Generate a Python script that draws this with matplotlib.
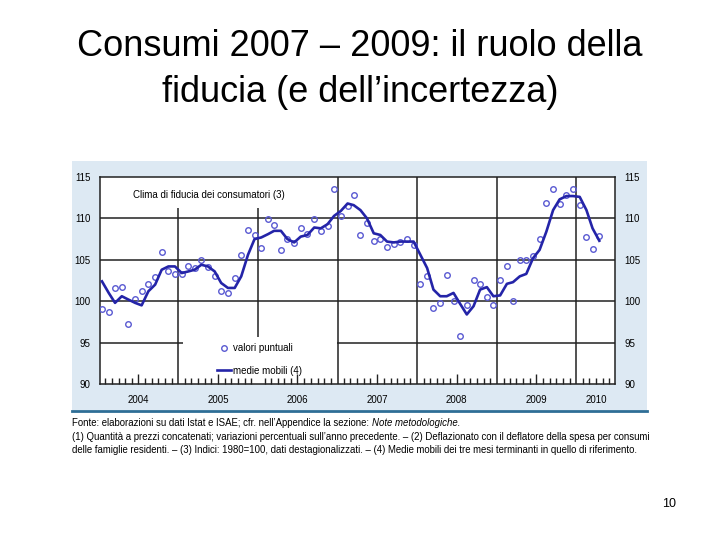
import numpy as np
import matplotlib
matplotlib.use("Agg")
import matplotlib.pyplot as plt
import matplotlib.dates as mdates
from matplotlib.patches import Rectangle
from matplotlib.lines import Line2D

# clima di fiducia dei consumatori, dati mensili gen 2004 - apr 2010
mesi = np.arange("2004-01", "2010-05", dtype="datetime64[M]")
valori_puntuali = [
    99.0, 98.7, 101.6, 101.7, 97.2, 100.3, 101.2, 102.1, 102.9, 105.9, 103.6, 103.3,
    103.3, 104.3, 104.0, 105.0, 104.1, 103.1, 101.2, 101.0, 102.8, 105.6, 108.6, 108.0,
    106.4, 109.9, 109.2, 106.2, 107.5, 107.0, 108.9, 108.1, 109.9, 108.5, 109.1, 113.5,
    110.3, 111.5, 112.8, 108.0, 109.4, 107.3, 107.5, 106.5, 106.9, 107.1, 107.5, 106.8,
    102.1, 103.0, 99.2, 99.8, 103.2, 100.0, 95.8, 99.5, 102.6, 102.1, 100.5, 99.5,
    102.6, 104.2, 100.0, 105.0, 105.0, 105.5, 107.5, 111.8, 113.6, 111.7, 112.8, 113.6,
    111.6, 107.7, 106.3, 107.9,
]
medie_mobili = [
    102.4, 101.0, 99.8, 100.6, 100.2, 99.8, 99.5, 101.2, 102.0, 103.8, 104.2, 104.2,
    103.4, 103.6, 103.8, 104.4, 104.2, 103.6, 102.2, 101.6, 101.6, 103.0, 105.6, 107.5,
    107.7, 108.1, 108.5, 108.5, 107.5, 107.1, 107.8, 108.0, 108.9, 108.8, 109.3, 110.3,
    110.9, 111.8, 111.6, 111.0, 110.0, 108.2, 108.0, 107.2, 107.1, 107.2, 107.2, 107.2,
    105.6, 104.0, 101.4, 100.6, 100.6, 101.0, 99.7, 98.4, 99.4, 101.4, 101.7, 100.6,
    100.7, 102.1, 102.3, 103.0, 103.3, 105.2, 106.2, 108.4, 111.0, 112.3, 112.7, 112.7,
    112.6, 111.0, 108.8, 107.3,
]
anni = [2005, 2006, 2007, 2008, 2009, 2010]
yticks = [90, 95, 100, 105, 110, 115]

sans = ["Liberation Sans", "DejaVu Sans"]

fig = plt.figure(figsize=(7.2, 5.4), dpi=100)
W, H = 720, 540


def fx(px):
    return px / W


def fy(py):
    return 1 - py / H


# titolo della slide
fig.text(0.5, fy(46), "Consumi 2007 \u2013 2009: il ruolo della",
         ha="center", va="center", fontsize=26, family=sans)
fig.text(0.5, fy(92), "fiducia (e dell\u2019incertezza)",
         ha="center", va="center", fontsize=26, family=sans)

# riquadro azzurro del grafico
fig.add_artist(Rectangle((fx(72), fy(410)), fx(647) - fx(72), fy(161) - fy(410),
                         transform=fig.transFigure, facecolor="#dde9f3",
                         edgecolor="none", zorder=0))
fig.add_artist(Line2D([fx(72), fx(647)], [fy(411), fy(411)],
                      transform=fig.transFigure, color="#2e6e96", lw=2))

ax = fig.add_axes([fx(100), fy(384), fx(615) - fx(100), fy(177) - fy(384)])
x = mesi.astype("datetime64[D]") + 15

for y in yticks[1:-1]:
    ax.axhline(y, color="#222222", lw=1.1, zorder=0.6)
for a in anni:
    ax.axvline(np.datetime64(f"{a}-01-01"), color="#222222", lw=1.1, zorder=0.6)

ax.plot(x, valori_puntuali, "o", ms=4, mfc="none", mec="#5a5ad2", mew=1.0,
        zorder=3, label="valori puntuali")
ax.plot(x, medie_mobili, "-", color="#2424a8", lw=1.9, zorder=3,
        label="medie mobili (4)")

ax.set_xlim(np.datetime64("2004-01-07"), np.datetime64("2010-06-27"))
ax.set_ylim(90, 115)
ax.set_yticks(yticks)
ax.xaxis.set_major_locator(mdates.MonthLocator(bymonth=7))
ax.xaxis.set_major_formatter(mdates.DateFormatter("%Y"))
ax.xaxis.set_minor_locator(mdates.MonthLocator(bymonth=[2, 3, 4, 5, 6, 8, 9, 10, 11, 12]))
ax.tick_params(axis="x", which="major", direction="in", length=7, width=1,
               pad=8, labelsize=7, color="#222222")
ax.tick_params(axis="x", which="minor", direction="in", length=4, width=1,
               color="#222222")
ax.tick_params(axis="y", length=0, labelleft=True, labelright=True, pad=7,
               labelsize=7)
for lab in ax.get_xticklabels() + ax.get_yticklabels():
    lab.set_family(sans)
for s in ax.spines.values():
    s.set_color("#222222")
    s.set_linewidth(1.1)

# l'ultimo anno e' parziale: etichetta al centro della parte visibile
ax.text(np.datetime64("2010-03-31"), -0.078, "2010", transform=ax.get_xaxis_transform(),
        ha="center", va="center", fontsize=7, family=sans)

# riquadri bianchi sotto titolo interno e legenda
ax.add_patch(Rectangle((0.058, 0.85), 0.311, 0.15, transform=ax.transAxes,
                       facecolor="white", edgecolor="none", zorder=1))
ax.add_patch(Rectangle((0.161, 0.0), 0.299, 0.227, transform=ax.transAxes,
                       facecolor="white", edgecolor="none", zorder=1))
ax.text(0.064, 0.913, "Clima di fiducia dei consumatori (3)", transform=ax.transAxes,
        ha="left", va="center", fontsize=7, family=sans, zorder=4)
ax.legend(loc="upper left", bbox_to_anchor=(0.228, 0.198), frameon=False,
          borderpad=0, borderaxespad=0, handlelength=1.4, handletextpad=0.2,
          labelspacing=1.3, numpoints=1, prop={"family": sans, "size": 7})

# note in calce
fnote = dict(fontsize=6.9, family=sans, va="center", ha="left")
t1 = fig.text(fx(72), fy(423), "Fonte: elaborazioni su dati Istat e ISAE; cfr. nell\u2019Appendice la sezione: ", **fnote)
fig.canvas.draw()
bb = t1.get_window_extent()
fig.text(bb.x1 / W, fy(423), "Note metodologiche.", style="italic", **fnote)
fig.text(fx(72), fy(437), "(1) Quantit\u00e0 a prezzi concatenati; variazioni percentuali sull\u2019anno precedente. \u2013 (2) Deflazionato con il deflatore della spesa per consumi", **fnote)
fig.text(fx(72), fy(450), "delle famiglie residenti. \u2013 (3) Indici: 1980=100, dati destagionalizzati. \u2013 (4) Medie mobili dei tre mesi terminanti in quello di riferimento.", **fnote)

fig.text(fx(669), fy(504), "10", ha="center", va="center", fontsize=9, family=sans)

fig.savefig("out.png", dpi=100)
